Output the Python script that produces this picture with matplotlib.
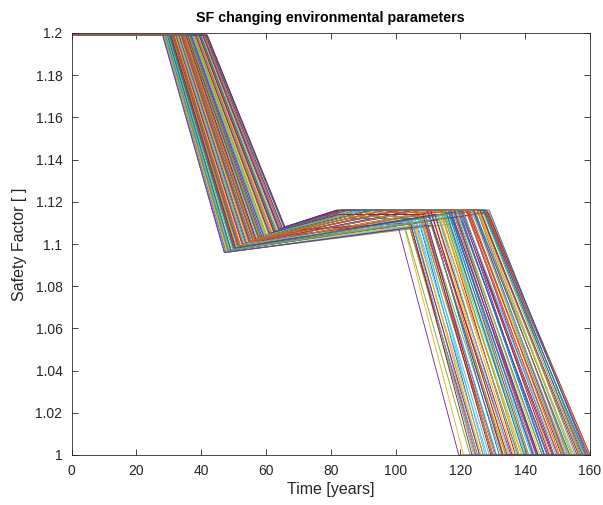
import matplotlib
matplotlib.use("Agg")
import matplotlib.pyplot as plt

plt.rcParams['font.family'] = ['Liberation Sans', 'DejaVu Sans']

T_END = 160.0
SF_START = 1.199
SF_LIMIT = 1.0

# Start of the first decline [years]
t_drop1 = [
    31.2, 36.8, 29.5, 40.1, 33.7, 38.4, 28.3, 35.0, 41.6, 30.4,
    37.5, 32.1, 39.3, 34.6, 28.9, 36.1, 41.0, 31.8, 33.2, 38.9,
    29.9, 35.6, 40.7, 32.7, 37.0, 30.9, 39.8, 34.1, 28.6, 36.5,
    41.9, 33.9, 31.5, 38.0, 29.2, 35.3, 40.4, 32.4, 37.8, 30.1,
    34.8, 39.0, 28.1, 36.3, 41.3, 31.0, 33.5, 38.6, 29.7, 35.9,
    40.9, 32.9, 37.2, 30.6, 34.3, 39.6, 28.8, 36.7, 41.4, 31.3,
    33.0, 38.2, 29.4, 35.1, 40.2, 32.2, 37.6, 30.2, 34.5, 39.1,
    28.5, 36.0, 41.8, 31.6, 33.4, 38.7, 29.1, 35.4, 40.5, 32.5,
    37.3, 30.7, 34.9, 39.4, 28.2, 36.9, 41.1, 31.9, 33.8, 38.3,
    29.6, 35.7, 40.0, 32.8, 37.1, 30.3, 34.0, 39.7, 28.4, 36.4,
]

# End of the first decline (valley) [years] and SF there
t_valley = [
    51.3, 58.9, 49.0, 63.4, 54.7, 61.1, 47.4, 56.5, 65.5, 50.3,
    59.9, 52.6, 62.3, 56.0, 48.2, 58.0, 64.6, 52.2, 54.1, 61.8,
    49.6, 57.3, 64.2, 53.4, 59.2, 50.9, 63.0, 55.3, 47.8, 58.5,
    65.9, 55.0, 51.8, 60.6, 48.6, 56.9, 63.8, 53.0, 60.3, 49.9,
    56.2, 61.9, 47.1, 58.3, 65.1, 51.1, 54.5, 61.4, 49.3, 57.7,
    64.5, 53.7, 59.5, 50.5, 55.6, 62.7, 48.1, 58.8, 65.2, 51.5,
    53.8, 60.8, 48.9, 56.6, 63.6, 52.7, 60.0, 50.0, 55.8, 62.1,
    47.7, 57.9, 65.7, 51.9, 54.3, 61.5, 48.5, 57.0, 64.0, 53.1,
    59.6, 50.7, 56.4, 62.5, 47.3, 59.1, 64.8, 52.3, 54.9, 61.0,
    49.2, 57.5, 63.3, 53.5, 59.4, 50.1, 55.1, 62.9, 47.5, 58.4,
]
sf_valley = [
    1.099, 1.103, 1.097, 1.106, 1.101, 1.105, 1.096, 1.102, 1.108, 1.098,
    1.104, 1.100, 1.106, 1.102, 1.097, 1.103, 1.107, 1.099, 1.100, 1.105,
    1.098, 1.102, 1.107, 1.100, 1.104, 1.098, 1.106, 1.101, 1.097, 1.103,
    1.108, 1.101, 1.099, 1.105, 1.097, 1.102, 1.107, 1.100, 1.104, 1.098,
    1.102, 1.105, 1.096, 1.103, 1.107, 1.099, 1.101, 1.105, 1.097, 1.103,
    1.107, 1.100, 1.104, 1.098, 1.101, 1.106, 1.097, 1.103, 1.107, 1.099,
    1.100, 1.105, 1.097, 1.102, 1.106, 1.100, 1.104, 1.098, 1.102, 1.105,
    1.096, 1.103, 1.108, 1.099, 1.101, 1.105, 1.097, 1.102, 1.107, 1.100,
    1.104, 1.098, 1.102, 1.106, 1.096, 1.104, 1.107, 1.099, 1.101, 1.105,
    1.097, 1.103, 1.106, 1.100, 1.104, 1.098, 1.101, 1.106, 1.096, 1.103,
]

# End of the recovery [years] and plateau SF
t_peak = [
    114.3, 92.2, 124.9, 105.3, 101.6, 84.9, 101.0, 96.5, 81.8, 107.8,
    89.9, 107.8, 104.6, 97.2, 128.7, 93.1, 77.1, 112.9, 102.5, 87.4,
    124.6, 90.6, 83.3, 106.7, 90.0, 103.7, 85.2, 97.7, 106.2, 92.7,
    81.9, 100.5, 112.5, 102.5, 121.1, 95.8, 82.9, 97.8, 89.6, 115.9,
    104.9, 86.9, 111.4, 92.5, 79.4, 116.5, 98.3, 87.0, 109.2, 92.8,
    83.3, 105.8, 89.5, 112.1, 99.7, 84.9, 110.5, 89.6, 81.5, 114.5,
    105.4, 87.0, 106.5, 96.6, 85.3, 107.9, 102.9, 122.0, 94.0, 87.1,
    109.5, 93.0, 81.7, 104.3, 101.2, 87.1, 128.4, 84.8, 83.1, 106.4,
    89.6, 104.0, 96.4, 83.0, 119.4, 106.0, 83.6, 113.0, 101.8, 82.4,
    117.3, 92.6, 85.0, 105.0, 89.4, 113.0, 100.6, 78.5, 121.3, 92.6,
]
sf_peak = [
    1.116, 1.116, 1.114, 1.111, 1.116, 1.115, 1.107, 1.116, 1.116, 1.112,
    1.116, 1.116, 1.110, 1.116, 1.115, 1.116, 1.113, 1.116, 1.115, 1.116,
    1.116, 1.114, 1.116, 1.116, 1.116, 1.111, 1.116, 1.115, 1.109, 1.116,
    1.116, 1.116, 1.116, 1.109, 1.114, 1.116, 1.116, 1.113, 1.116, 1.114,
    1.111, 1.116, 1.109, 1.116, 1.114, 1.116, 1.115, 1.116, 1.111, 1.116,
    1.116, 1.110, 1.116, 1.114, 1.116, 1.116, 1.111, 1.115, 1.115, 1.116,
    1.116, 1.116, 1.110, 1.116, 1.116, 1.116, 1.108, 1.116, 1.115, 1.116,
    1.109, 1.116, 1.116, 1.111, 1.116, 1.116, 1.115, 1.112, 1.116, 1.116,
    1.116, 1.110, 1.116, 1.115, 1.110, 1.112, 1.116, 1.116, 1.116, 1.114,
    1.113, 1.116, 1.116, 1.111, 1.116, 1.114, 1.116, 1.113, 1.112, 1.116,
]

# Start of the second decline [years]
t_drop2 = [
    118.4, 109.7, 124.9, 105.3, 121.6, 113.2, 101.0, 127.5, 116.1, 107.8,
    111.9, 125.8, 104.6, 119.3, 128.7, 114.5, 106.9, 122.4, 110.2, 117.0,
    126.3, 108.6, 120.7, 112.8, 123.9, 103.7, 115.4, 128.1, 106.2, 119.9,
    110.8, 124.2, 117.6, 102.5, 121.1, 113.9, 127.0, 108.1, 125.4, 115.9,
    104.9, 118.8, 111.4, 126.8, 107.3, 122.9, 114.0, 120.3, 109.2, 128.9,
    116.7, 105.8, 123.4, 112.1, 119.6, 127.8, 110.5, 124.6, 108.9, 117.9,
    121.9, 114.8, 106.5, 125.1, 113.5, 119.0, 102.9, 127.2, 111.0, 122.6,
    109.5, 126.0, 116.4, 104.3, 120.9, 112.5, 128.4, 107.0, 118.1, 123.6,
    114.3, 104.0, 125.7, 110.0, 119.4, 106.0, 122.1, 115.1, 127.6, 108.4,
    117.3, 124.0, 111.7, 105.0, 120.5, 113.0, 128.2, 107.6, 121.3, 116.9,
]

# Time at which SF reaches 1 [years]
t_fail = [
    145.2, 133.0, 153.5, 125.2, 150.1, 136.4, 119.5, 158.3, 140.6, 130.1,
    134.8, 156.0, 123.6, 146.7, 159.2, 138.2, 128.9, 151.2, 132.0, 143.4,
    155.5, 131.2, 147.4, 137.5, 152.0, 124.5, 139.6, 160.0, 126.4, 148.3,
    134.4, 153.8, 142.8, 121.0, 149.5, 137.0, 157.6, 130.6, 154.3, 141.9,
    125.9, 144.5, 135.6, 156.9, 127.7, 150.6, 139.1, 146.0, 132.6, 158.9,
    141.1, 127.2, 152.7, 136.0, 145.8, 157.2, 133.9, 155.0, 129.8, 144.0,
    148.9, 140.3, 128.2, 153.1, 138.8, 147.0, 123.0, 158.6, 133.3, 151.8,
    131.0, 156.5, 142.3, 124.8, 147.8, 135.2, 160.0, 127.0, 143.6, 151.5,
    139.9, 125.3, 154.6, 133.1, 145.3, 126.0, 149.9, 140.8, 159.5, 129.4,
    142.5, 152.3, 134.1, 124.1, 148.6, 137.8, 157.9, 130.0, 150.2, 143.9,
]

line_colors = ['#0072BD', '#D95319', '#EDB120', '#7E2F8E',
               '#77AC30', '#4DBEEE', '#A2142F']
axis_color = '#262626'

fig = plt.figure(figsize=(6.03, 5.05), dpi=100)
ax = fig.add_axes([71.5 / 603, 50 / 505, 518.5 / 603, 422 / 505])

# Interleave the runs so neighbouring curves get different colours
n = len(t_drop1)
draw_order = [(k * 37) % n for k in range(n)]
for k, i in enumerate(draw_order):
    t = [0.0, t_drop1[i], t_valley[i], t_peak[i], t_drop2[i], t_fail[i], T_END]
    sf = [SF_START, SF_START, sf_valley[i], sf_peak[i], sf_peak[i],
          SF_LIMIT, SF_LIMIT]
    ax.plot(t, sf, color=line_colors[k % len(line_colors)], lw=0.65)

ax.set_xlim(0, 160)
ax.set_ylim(1.0, 1.2)
ax.set_xticks(range(0, 161, 20))
yt = [1.0 + 0.02 * k for k in range(11)]
ax.set_yticks(yt)
ax.set_yticklabels(['1', '1.02', '1.04', '1.06', '1.08', '1.1',
                    '1.12', '1.14', '1.16', '1.18', '1.2'])

for s in ax.spines.values():
    s.set_color(axis_color)
    s.set_linewidth(0.6)
ax.tick_params(direction='in', top=True, right=True, length=4.5,
               width=0.6, colors=axis_color, labelsize=10, pad=6.5)

ax.set_xlabel('Time [years]', fontsize=11.5, color=axis_color, labelpad=3)
ax.set_ylabel('Safety Factor [ ]', fontsize=11.5, color=axis_color, labelpad=6)
ax.set_title('SF changing environmental parameters', fontsize=10.3,
             fontweight='bold', color='black', pad=8)

fig.savefig('out.png', dpi=100)
